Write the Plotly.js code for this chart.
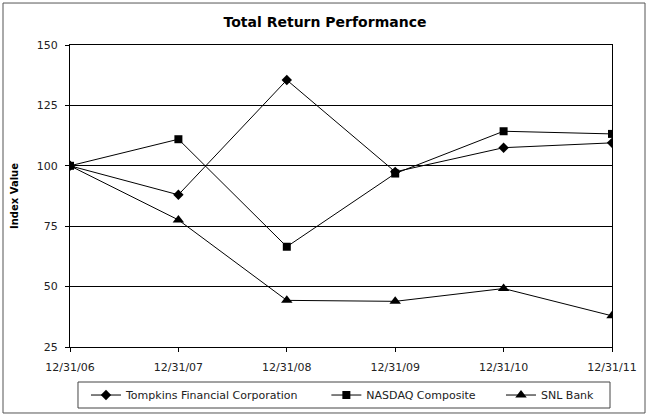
<!DOCTYPE html>
<html>
<head>
<meta charset="utf-8">
<script src="https://cdn.plot.ly/plotly-3.0.1.min.js"></script>
<style>html,body{margin:0;padding:0;background:#fff;}#chart{width:650px;height:418px;}</style>
</head>
<body>
<div id="chart"></div>
<script>
const dates = ["12/31/06", "12/31/07", "12/31/08", "12/31/09", "12/31/10", "12/31/11"];
const tompkins = [100, 88, 135.5, 97.5, 107.5, 109.5];
const nasdaq = [100, 111, 66.5, 96.8, 114.3, 113.2];
const snlBank = [100, 77.6, 44.3, 43.9, 49.2, 37.9];
const yTicks = [25, 50, 75, 100, 125, 150];

const FONT = "DejaVu Sans, Verdana, sans-serif";
const lineStyle = {color: "#000", width: 1};
const traces = [
  {x: dates, y: tompkins, name: "Tompkins Financial Corporation", type: "scatter", mode: "lines+markers",
   line: lineStyle, marker: {symbol: "diamond", size: 8, color: "#000"}, legend: "legend"},
  {x: dates, y: nasdaq, name: "NASDAQ Composite", type: "scatter", mode: "lines+markers",
   line: lineStyle, marker: {symbol: "square", size: 8, color: "#000"}, legend: "legend2"},
  {x: dates, y: snlBank, name: "SNL Bank", type: "scatter", mode: "lines+markers",
   line: lineStyle, marker: {symbol: "triangle-up", size: 10, color: "#000"}, legend: "legend3"}
];

const legendBase = {orientation: "h", xanchor: "left", yanchor: "middle", y: -0.159,
  bgcolor: "rgba(0,0,0,0)", borderwidth: 0, font: {family: FONT, size: 11, color: "#222"}};

const layout = {
  width: 650, height: 418,
  margin: {l: 70, r: 38, t: 45, b: 71, autoexpand: false},
  paper_bgcolor: "#fff", plot_bgcolor: "#fff",
  font: {family: FONT, size: 11, color: "#222"},
  title: {text: "<b>Total Return Performance</b>", font: {family: FONT, size: 14, color: "#000"}, x: 0.5, xanchor: "center", y: 0.947, yanchor: "middle"},
  showlegend: true,
  legend: Object.assign({}, legendBase, {x: 0.0295}),
  legend2: Object.assign({}, legendBase, {x: 0.473}),
  legend3: Object.assign({}, legendBase, {x: 0.7952}),
  xaxis: {type: "category", range: [0, 5], showline: true, linecolor: "#000", linewidth: 1, mirror: true,
    ticks: "outside", ticklen: 4, tickcolor: "#000", showgrid: false, zeroline: false, fixedrange: true,
    ticklabelstandoff: 6,
    tickfont: {family: FONT, size: 11, color: "#222"}},
  yaxis: {range: [25, 150], tickvals: yTicks, ticktext: yTicks.map(String), showline: true, linecolor: "#000", linewidth: 1, mirror: true,
    ticks: "outside", ticklen: 4, tickcolor: "#000", showgrid: true, gridcolor: "#000", gridwidth: 1, zeroline: false,
    ticklabelstandoff: 5,
    tickfont: {family: FONT, size: 11, color: "#222"},
    title: {text: "<b>Index Value</b>", font: {family: FONT, size: 10, color: "#000"}, standoff: 16}},
  shapes: [
    {type: "rect", xref: "paper", yref: "paper", x0: -0.1236, x1: 1.0609, y0: -0.2185, y1: 1.139,
     line: {color: "#555", width: 1}, fillcolor: "rgba(0,0,0,0)", layer: "below"},
    {type: "rect", xref: "paper", yref: "paper", x0: 0.01476, x1: 0.99631, y0: -0.2020, y1: -0.1159,
     line: {color: "#444", width: 1}, fillcolor: "rgba(0,0,0,0)", layer: "below"}
  ]
};

Plotly.newPlot("chart", traces, layout, {displayModeBar: false, staticPlot: true});
</script>
</body>
</html>
